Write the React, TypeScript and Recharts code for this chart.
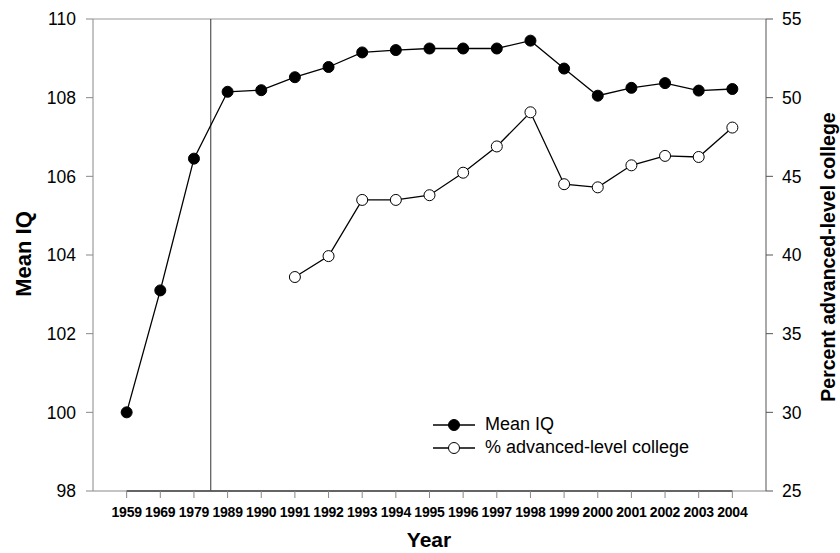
import { Line, LineChart, ReferenceLine, XAxis, YAxis, Legend } from "recharts"

const years = [
  "1959", "1969", "1979", "1989", "1990", "1991", "1992", "1993", "1994", "1995",
  "1996", "1997", "1998", "1999", "2000", "2001", "2002", "2003", "2004",
]

const meanIQ = [
  100.0, 103.1, 106.45, 108.15, 108.19, 108.52, 108.78, 109.15, 109.21, 109.25,
  109.25, 109.25, 109.45, 108.74, 108.05, 108.25, 108.37, 108.18, 108.22,
]

const collegePct = [
  null, null, null, null, null, 38.6, 39.93, 43.5, 43.5, 43.8,
  45.23, 46.9, 49.07, 44.5, 44.3, 45.7, 46.3, 46.23, 48.1,
]

const iqTicks = [98, 100, 102, 104, 106, 108, 110]
const pctTicks = [25, 30, 35, 40, 45, 50, 55]

const data = years.map((year, i) => ({
  idx: i,
  year,
  iq: meanIQ[i],
  pct: collegePct[i],
}))

const font = "Arial, 'Liberation Sans', sans-serif"

const legendItems = [
  { name: "Mean IQ", fill: "#000" },
  { name: "% advanced-level college", fill: "#fff" },
]

function LegendBox() {
  return (
    <div style={{ fontFamily: font, fontSize: 18, color: "#000", lineHeight: "23px" }}>
      {legendItems.map((item) => (
        <div key={item.name} style={{ display: "flex", alignItems: "center", height: 23 }}>
          <svg width={42} height={14} style={{ marginRight: 10 }}>
            <line x1={0} y1={7} x2={42} y2={7} stroke="#000" strokeWidth={1.3} />
            <circle cx={21} cy={7} r={5.5} fill={item.fill} stroke="#000" strokeWidth={1} />
          </svg>
          <span>{item.name}</span>
        </div>
      ))}
    </div>
  )
}

export default function App() {
  return (
    <div style={{ position: "absolute", left: 0, top: 0 }}>
      <LineChart width={840} height={553} data={data} margin={{ top: 19, right: 0, left: 0, bottom: 0 }}>
        <XAxis
          dataKey="idx"
          type="number"
          domain={[-1, 19]}
          ticks={years.map((_, i) => i)}
          interval={0}
          tickFormatter={(i) => years[i]}
          height={62}
          stroke="#888"
          tickSize={7}
          tickMargin={9}
          tick={{ fill: "#000", fontSize: 14, fontWeight: "bold", fontFamily: font, letterSpacing: -0.2 }}
          label={{
            content: () => (
              <text x={429} y={547} textAnchor="middle" fontFamily={font} fontSize={21} fontWeight="bold" fill="#000">
                Year
              </text>
            ),
          }}
        />
        <YAxis
          yAxisId="iq"
          domain={[98, 110]}
          ticks={iqTicks}
          interval={0}
          width={93}
          stroke="#888"
          tickSize={7}
          tickMargin={10}
          tick={{ fill: "#000", fontSize: 17.5, fontFamily: font }}
          label={{
            content: () => (
              <text
                x={23}
                y={254}
                transform="rotate(-90 23 254)"
                textAnchor="middle"
                dominantBaseline="central"
                fontFamily={font}
                fontSize={22}
                fontWeight="bold"
                fill="#000"
              >
                Mean IQ
              </text>
            ),
          }}
        />
        <YAxis
          yAxisId="pct"
          orientation="right"
          domain={[25, 55]}
          ticks={pctTicks}
          interval={0}
          width={74}
          stroke="#555"
          tickSize={7}
          tickMargin={9}
          tick={{ fill: "#000", fontSize: 17.5, fontFamily: font }}
          label={{
            content: () => (
              <text
                x={828}
                y={257}
                transform="rotate(-90 828 257)"
                textAnchor="middle"
                dominantBaseline="central"
                fontFamily={font}
                fontSize={19.5}
                fontWeight="bold"
                fill="#000"
              >
                Percent advanced-level college
              </text>
            ),
          }}
        />
        <ReferenceLine yAxisId="iq" y={110} stroke="#999" />
        <ReferenceLine yAxisId="iq" x={2.5} stroke="#333" />
        <ReferenceLine
          yAxisId="iq"
          segment={[
            { x: 0, y: 98 },
            { x: 18, y: 98 },
          ]}
          stroke="#000"
          strokeWidth={1.5}
        />
        <Legend
          content={() => <LegendBox />}
          layout="vertical"
          align="center"
          verticalAlign="middle"
          wrapperStyle={{ left: 433, top: 413, width: 300 }}
        />
        <Line
          yAxisId="iq"
          dataKey="iq"
          name="Mean IQ"
          stroke="#000"
          strokeWidth={1.3}
          dot={{ r: 5.5, fill: "#000", stroke: "#000", strokeWidth: 1 }}
          activeDot={false}
          isAnimationActive={false}
        />
        <Line
          yAxisId="pct"
          dataKey="pct"
          name="% advanced-level college"
          stroke="#000"
          strokeWidth={1.3}
          dot={{ r: 5.5, fill: "#fff", stroke: "#000", strokeWidth: 1 }}
          activeDot={false}
          isAnimationActive={false}
        />
      </LineChart>
    </div>
  )
}
